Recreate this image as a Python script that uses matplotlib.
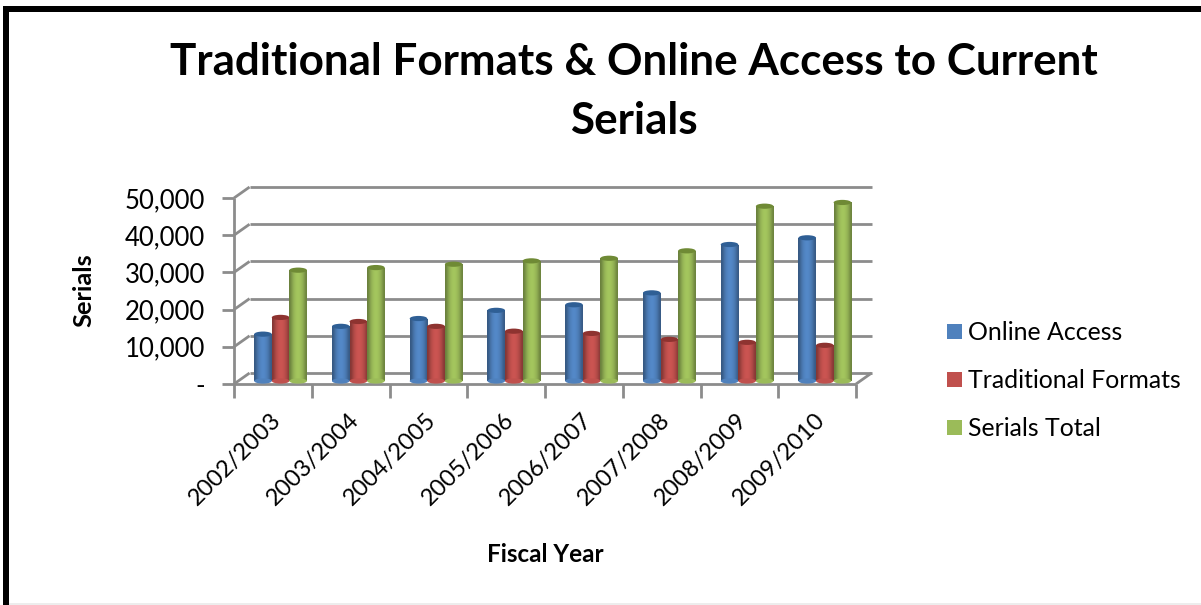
import numpy as np
from matplotlib import pyplot as plt
from matplotlib.patches import Ellipse, Rectangle

years = ["2002/2003", "2003/2004", "2004/2005", "2005/2006",
         "2006/2007", "2007/2008", "2008/2009", "2009/2010"]
online = [12600, 14700, 16800, 19000, 20500, 23700, 36700, 38500]
traditional = [17100, 16000, 14700, 13400, 12800, 11200, 10400, 9600]
total = [29800, 30500, 31400, 32300, 33000, 35000, 47000, 48000]
y_ticks = [0, 10000, 20000, 30000, 40000, 50000]
y_labels = ["-", "10,000", "20,000", "30,000", "40,000", "50,000"]

W, H = 1201, 605
plt.rcParams['font.family'] = ['Lato', 'DejaVu Sans']
GRID = '#8C8C8C'
colors = ['#4F81BD', '#C0504D', '#9BBB59']
darks = ['#2F5F95', '#8E3330', '#6F8A35']

fig = plt.figure(figsize=(W / 100, H / 100), dpi=100)
# frame of the pasted picture: black top and left, faint line at the bottom
fig.add_artist(Rectangle((3 / W, 1 - 12 / H), 1198 / W, 6 / H, fc='black', ec='none',
                         transform=fig.transFigure))
fig.add_artist(Rectangle((3 / W, 0), 6 / W, 1 - 6 / H, fc='black', ec='none',
                         transform=fig.transFigure))
fig.add_artist(Rectangle((9 / W, 0), 1192 / W, 2 / H, fc='#EDEDED', ec='none',
                         transform=fig.transFigure))

ax = fig.add_axes([234 / W, 1 - 384 / H, 622 / W, 186 / H])
ax.set_xlim(0, len(years))
ax.set_ylim(0, 50000)
ax.patch.set_visible(False)
for s in ax.spines.values():
    s.set_visible(False)

# depth of the fake 3d box, in data units
dx, dy = 0.2, 2950
line = dict(color=GRID, lw=2, clip_on=False, zorder=1, solid_capstyle='butt')
for v in y_ticks:
    ax.plot([dx, len(years) + dx], [v + dy, v + dy], **line)
    ax.plot([0, dx], [v, v + dy], **line)
ax.plot([0, 0], [0, 50000], **line)
ax.plot([0, len(years)], [0, 0], **line)
ax.plot([len(years), len(years) + dx], [0, dy], **line)

ax.set_xticks(np.arange(len(years) + 1))
ax.set_xticklabels([])
ax.set_yticks(y_ticks)
ax.set_yticklabels(y_labels, fontsize=18.5)
ax.tick_params(axis='both', color=GRID, width=2, length=9)
ax.tick_params(axis='y', pad=12)
ax.tick_params(axis='x', length=10, direction='out')

for i, year in enumerate(years):
    ax.annotate(year, (i + 0.5, 0), xytext=(-2, -18), textcoords='offset points',
                rotation=45, ha='right', va='top', rotation_mode='anchor', fontsize=17,
                annotation_clip=False)

# cylinders sit a little inside the floor
base = 800
bar_w = 0.226
start = 0.26
shade = np.array([0.68, 0.88, 1, 1.06, 1.06, 1, 0.9, 0.7])[None, :]
for j, (vals, c, d) in enumerate(zip([online, traditional, total], colors, darks)):
    rgb = np.array(plt.matplotlib.colors.to_rgb(c))
    grad = np.clip(shade[..., None] * rgb, 0, 1)
    for i, v in enumerate(vals):
        x0 = i + start + j * bar_w
        top = base + v
        z = 3 + j
        body = Rectangle((x0, base), bar_w, v, fc=c, ec='none', zorder=z)
        ax.add_patch(body)
        im = ax.imshow(grad, extent=(x0, x0 + bar_w, base, top), aspect='auto',
                       interpolation='bicubic', zorder=z, clip_on=True)
        im.set_clip_path(body)
        ax.add_patch(Ellipse((x0 + bar_w / 2, base), bar_w, 1400, fc=c, ec='none',
                             zorder=z, clip_on=False))
        ax.add_patch(Ellipse((x0 + bar_w / 2, top), bar_w, 1400, fc=d, ec='none',
                             zorder=z, clip_on=False))
ax.set_xlim(0, len(years))
ax.set_ylim(0, 50000)

fig.text(634 / W, 1 - 62 / H, "Traditional Formats & Online Access to Current", fontsize=31.7,
         fontweight='bold', ha='center', va='center')
fig.text(634 / W, 1 - 121 / H, "Serials", fontsize=31.7, fontweight='bold', ha='center', va='center')
fig.text(84 / W, 1 - 290 / H, "Serials", fontsize=18.3, fontweight='bold', rotation=90,
         ha='center', va='center')
fig.text(545 / W, 1 - 555 / H, "Fiscal Year", fontsize=17.5, fontweight='bold',
         ha='center', va='center')

# legend
names = ["Online Access", "Traditional Formats", "Serials Total"]
for name, c, y in zip(names, colors, [331, 379, 427]):
    fig.add_artist(Rectangle((947 / W, 1 - (y + 7.5) / H), 15 / W, 15 / H, fc=c, ec='none',
                             transform=fig.transFigure))
    fig.text(968 / W, 1 - (y + 1) / H, name, fontsize=17.9, ha='left', va='center')

fig.savefig("out.png", dpi=100)
